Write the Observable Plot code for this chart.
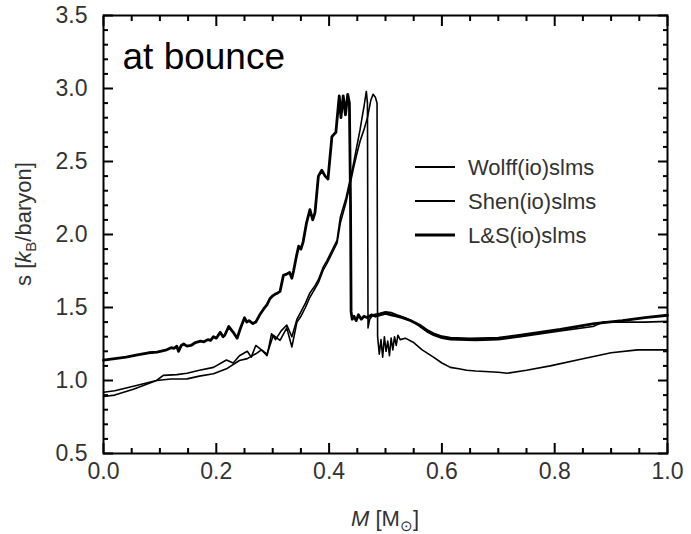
<!DOCTYPE html>
<html>
<head>
<meta charset="utf-8">
<script src="https://cdn.jsdelivr.net/npm/d3@7"></script>
<script src="https://cdn.jsdelivr.net/npm/@observablehq/plot@0.6"></script>
<style>
  html, body { margin: 0; padding: 0; background: #fff; }
</style>
</head>
<body>
<div id="chart"></div>
<script>
// ---- Data ----
const seriesNames = ["Wolff(io)slms", "Shen(io)slms", "L&S(io)slms"];

const lsM = [0.000, 0.020, 0.040, 0.060, 0.080, 0.095, 0.112, 0.120, 0.125, 0.130, 0.133, 0.138, 0.142, 0.148, 0.155, 0.163, 0.172, 0.178, 0.185, 0.190, 0.195, 0.200, 0.207, 0.212, 0.215, 0.222, 0.226, 0.230, 0.237, 0.243, 0.250, 0.254, 0.258, 0.265, 0.270, 0.277, 0.284, 0.290, 0.295, 0.300, 0.304, 0.309, 0.313, 0.319, 0.325, 0.330, 0.334, 0.337, 0.342, 0.346, 0.350, 0.354, 0.360, 0.366, 0.371, 0.375, 0.381, 0.387, 0.393, 0.398, 0.405, 0.412, 0.418, 0.421, 0.425, 0.429, 0.433, 0.436, 0.438, 0.439, 0.441, 0.444, 0.448, 0.452, 0.457, 0.462, 0.468, 0.475, 0.482, 0.490, 0.500, 0.510, 0.520, 0.530, 0.545, 0.560, 0.575, 0.585, 0.600, 0.615, 0.650, 0.700, 0.740, 0.810, 0.870, 0.920, 0.960, 1.000];
const lsS = [1.14, 1.15, 1.16, 1.175, 1.19, 1.195, 1.21, 1.225, 1.22, 1.235, 1.20, 1.24, 1.25, 1.235, 1.24, 1.26, 1.27, 1.265, 1.28, 1.275, 1.30, 1.29, 1.33, 1.30, 1.31, 1.37, 1.35, 1.33, 1.29, 1.36, 1.43, 1.40, 1.41, 1.39, 1.40, 1.45, 1.49, 1.52, 1.56, 1.58, 1.59, 1.60, 1.61, 1.72, 1.73, 1.74, 1.70, 1.75, 1.85, 1.92, 1.90, 1.95, 2.08, 2.17, 2.10, 2.15, 2.40, 2.44, 2.40, 2.38, 2.67, 2.70, 2.95, 2.80, 2.95, 2.82, 2.96, 2.90, 2.20, 1.47, 1.42, 1.44, 1.41, 1.45, 1.42, 1.44, 1.43, 1.45, 1.44, 1.45, 1.46, 1.45, 1.44, 1.43, 1.41, 1.38, 1.34, 1.32, 1.30, 1.29, 1.285, 1.29, 1.31, 1.35, 1.39, 1.41, 1.43, 1.447];

const shenM = [0.000, 0.020, 0.053, 0.094, 0.106, 0.130, 0.148, 0.170, 0.195, 0.218, 0.230, 0.241, 0.255, 0.262, 0.270, 0.280, 0.290, 0.298, 0.305, 0.315, 0.325, 0.334, 0.343, 0.350, 0.358, 0.366, 0.375, 0.381, 0.390, 0.396, 0.405, 0.414, 0.420, 0.430, 0.437, 0.443, 0.449, 0.455, 0.458, 0.462, 0.466, 0.468, 0.469, 0.472, 0.478, 0.490, 0.500, 0.510, 0.520, 0.535, 0.550, 0.561, 0.575, 0.585, 0.600, 0.615, 0.660, 0.700, 0.740, 0.810, 0.868, 0.886, 0.920, 0.960, 1.000];
const shenS = [0.92, 0.93, 0.96, 1.00, 1.035, 1.04, 1.05, 1.07, 1.09, 1.14, 1.12, 1.17, 1.20, 1.16, 1.24, 1.21, 1.17, 1.32, 1.28, 1.34, 1.38, 1.30, 1.42, 1.47, 1.53, 1.60, 1.65, 1.69, 1.78, 1.82, 1.89, 1.96, 2.12, 2.25, 2.37, 2.48, 2.60, 2.72, 2.79, 2.88, 2.98, 2.90, 1.36, 1.42, 1.45, 1.46, 1.47, 1.465, 1.45, 1.43, 1.40, 1.37, 1.33, 1.31, 1.29, 1.28, 1.275, 1.28, 1.30, 1.34, 1.37, 1.40, 1.40, 1.40, 1.405];

const wolffM = [0.000, 0.020, 0.053, 0.094, 0.120, 0.148, 0.170, 0.195, 0.218, 0.241, 0.255, 0.270, 0.280, 0.290, 0.301, 0.313, 0.325, 0.334, 0.343, 0.350, 0.358, 0.366, 0.375, 0.381, 0.390, 0.396, 0.405, 0.414, 0.420, 0.430, 0.437, 0.443, 0.449, 0.455, 0.462, 0.468, 0.474, 0.478, 0.482, 0.485, 0.486, 0.489, 0.492, 0.495, 0.498, 0.501, 0.504, 0.507, 0.510, 0.513, 0.516, 0.519, 0.522, 0.526, 0.535, 0.550, 0.565, 0.585, 0.600, 0.615, 0.630, 0.644, 0.660, 0.700, 0.716, 0.750, 0.792, 0.846, 0.900, 0.947, 1.000];
const wolffS = [0.89, 0.90, 0.94, 1.00, 1.01, 1.011, 1.03, 1.046, 1.08, 1.137, 1.15, 1.183, 1.21, 1.18, 1.31, 1.275, 1.36, 1.23, 1.40, 1.44, 1.50, 1.57, 1.63, 1.67, 1.76, 1.80, 1.87, 1.94, 2.08, 2.22, 2.34, 2.45, 2.55, 2.64, 2.72, 2.80, 2.92, 2.96, 2.94, 2.90, 1.30, 1.18, 1.28, 1.16, 1.30, 1.20, 1.27, 1.17, 1.29, 1.21, 1.30, 1.24, 1.31, 1.28, 1.29, 1.26, 1.21, 1.16, 1.12, 1.09, 1.08, 1.07, 1.065, 1.057, 1.05, 1.07, 1.10, 1.146, 1.19, 1.21, 1.21];

const xTickLabels = [0.0, 0.2, 0.4, 0.6, 0.8, 1.0];
const yTickLabels = [0.5, 1.0, 1.5, 2.0, 2.5, 3.0, 3.5];
const xMinorTicks = [0.05, 0.1, 0.15, 0.25, 0.3, 0.35, 0.45, 0.5, 0.55, 0.65, 0.7, 0.75, 0.85, 0.9, 0.95];
const yMinorTicks = [0.6, 0.7, 0.8, 0.9, 1.1, 1.2, 1.3, 1.4, 1.6, 1.7, 1.8, 1.9, 2.1, 2.2, 2.3, 2.4, 2.6, 2.7, 2.8, 2.9, 3.1, 3.2, 3.3, 3.4];

// ---- Build tables ----
const toRows = (Ms, Ss) => Ms.map((m, i) => ({M: m, s: Ss[i]}));
const wolff = toRows(wolffM, wolffS);
const shen = toRows(shenM, shenS);
const ls = toRows(lsM, lsS);

// ---- Layout ----
const W = 691, H = 534;
const mL = 103, mR = 24, mT = 15, mB = 81;
const innerW = W - mL - mR, innerH = H - mT - mB;
const majorLen = 10, minorLen = 5;
const thin = 1.6, thick = 2.8;
const noText = () => "";

// inward ticks: axis ticks shifted into the frame by their own length
const inTicks = (len, ticksX, ticksY) => [
  Plot.axisX({anchor: "bottom", ticks: ticksX, tickSize: len, dy: -len, tickFormat: noText, stroke: "black", strokeWidth: 2}),
  Plot.axisX({anchor: "top", ticks: ticksX, tickSize: len, dy: len, tickFormat: noText, stroke: "black", strokeWidth: 2}),
  Plot.axisY({anchor: "left", ticks: ticksY, tickSize: len, dx: len, tickFormat: noText, stroke: "black", strokeWidth: 2}),
  Plot.axisY({anchor: "right", ticks: ticksY, tickSize: len, dx: -len, tickFormat: noText, stroke: "black", strokeWidth: 2})
];

const chart = Plot.plot({
  width: W, height: H,
  marginLeft: mL, marginRight: mR, marginTop: mT, marginBottom: mB,
  style: {fontFamily: "'Liberation Sans', Arial, Helvetica, sans-serif", fontSize: "23px", color: "#333", background: "white"},
  x: {domain: [0, 1], label: null},
  y: {domain: [0.5, 3.5], label: null},
  marks: [
    Plot.line(wolff, {x: "M", y: "s", stroke: "black", strokeWidth: thin}),
    Plot.line(shen, {x: "M", y: "s", stroke: "black", strokeWidth: thin}),
    Plot.line(ls, {x: "M", y: "s", stroke: "black", strokeWidth: thick}),
    ...inTicks(minorLen, xMinorTicks, yMinorTicks),
    ...inTicks(majorLen, xTickLabels, yTickLabels),
    Plot.frame({stroke: "black", strokeWidth: 2}),
    Plot.axisX({ticks: xTickLabels, tickSize: 0, tickPadding: 9, tickFormat: d3.format(".1f")}),
    Plot.axisY({ticks: yTickLabels, tickSize: 0, tickPadding: 16, tickFormat: d3.format(".1f")}),
    Plot.text(["at bounce"], {frameAnchor: "top-left", dx: 19, dy: 27, fontSize: 37, fill: "black", textAnchor: "start", lineAnchor: "top"})
  ]
});

document.getElementById("chart").appendChild(chart);

// ---- Axis titles with rich text ----
const svg = d3.select(chart);
const yl = svg.append("text")
  .attr("transform", `translate(31, 224) rotate(-90)`)
  .attr("text-anchor", "middle")
  .attr("font-size", 22)
  .attr("fill", "#333");
yl.append("tspan").text("s [");
yl.append("tspan").attr("font-style", "italic").text("k");
yl.append("tspan").attr("font-size", 15).attr("dy", 5).text("B");
yl.append("tspan").attr("dy", -5).text("/baryon]");

const xl = svg.append("text")
  .attr("x", mL + innerW / 2)
  .attr("y", H - 8)
  .attr("text-anchor", "middle")
  .attr("font-size", 22)
  .attr("fill", "#333");
xl.append("tspan").attr("font-style", "italic").text("M");
xl.append("tspan").text(" [M");
xl.append("tspan").attr("font-size", 15).attr("dy", 5).text("⊙");
xl.append("tspan").attr("dy", -5).text("]");

// ---- Legend ----
const legendWidths = [thin, thin, thick];
const lg = svg.append("g");
seriesNames.forEach((name, i) => {
  const y = 167 + 34 * i;
  lg.append("line").attr("x1", 415).attr("x2", 455).attr("y1", y).attr("y2", y)
    .attr("stroke", "black").attr("stroke-width", legendWidths[i] + 0.3);
  lg.append("text").attr("x", 468).attr("y", y).attr("dy", "0.36em")
    .attr("text-anchor", "start")
    .attr("font-size", 22).attr("fill", "#333").text(name);
});
</script>
</body>
</html>
